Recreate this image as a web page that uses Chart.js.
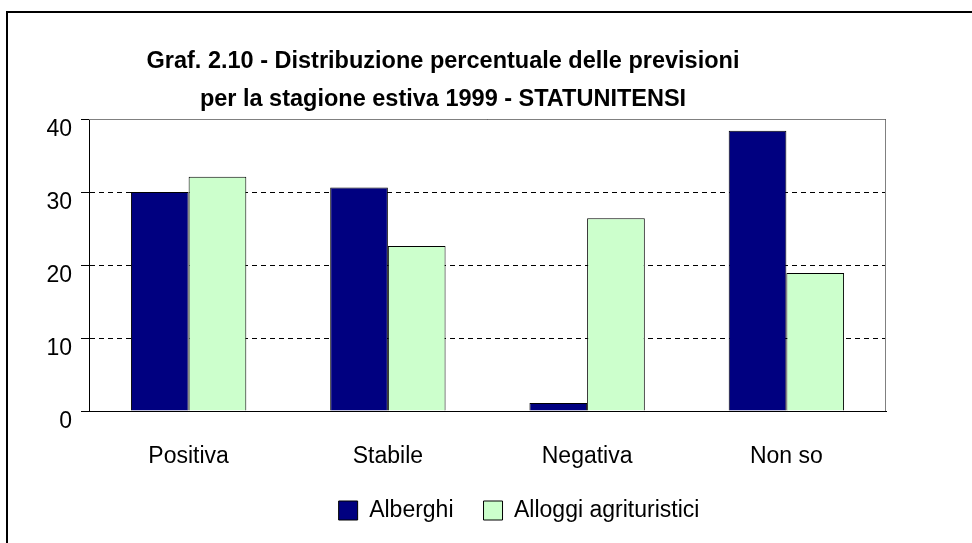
<!DOCTYPE html>
<html>
<head>
<meta charset="utf-8">
<script src="https://cdn.jsdelivr.net/npm/chart.js@4/dist/chart.umd.min.js"></script>
<style>
  body { margin: 0; background: #fff; }
  #wrap { position: relative; width: 972px; height: 543px; overflow: hidden; }
  #frame { position: absolute; left: 6px; top: 11px; width: 1000px; height: 600px;
           border-left: 2px solid #000; border-top: 2px solid #000; }
  #chart { position: absolute; left: 0; top: 0; }
</style>
</head>
<body>
<div id="wrap">
  <div id="frame"></div>
  <canvas id="chart" width="972" height="543"></canvas>
</div>
<script>
var categories = ['Positiva', 'Stabile', 'Negativa', 'Non so'];
var alberghi = [30.0, 30.6, 1.1, 38.4];
var agrituristici = [32.1, 22.6, 26.4, 18.9];
var yTicks = [0, 10, 20, 30, 40];

var FONT = '"Liberation Sans", Arial, sans-serif';

// bordo grigio dell'area del grafico (stile Excel)
var plotFrame = {
    id: 'plotFrame',
    beforeDatasetsDraw: function(chart) {
        var a = chart.chartArea, ctx = chart.ctx;
        ctx.save();
        ctx.strokeStyle = '#808080';
        ctx.lineWidth = 1;
        ctx.beginPath();
        ctx.moveTo(a.left, a.top + 0.5);
        ctx.lineTo(a.right - 0.5, a.top + 0.5);
        ctx.lineTo(a.right - 0.5, a.bottom);
        ctx.stroke();
        ctx.restore();
    }
};

// sposta la legenda a destra come nell'originale
var legendShift = {
    id: 'legendShift',
    afterLayout: function(chart) {
        chart.legend.left += 76;
        chart.legend.right += 76;
    }
};

function InitChart() {
    new Chart(document.getElementById('chart'), {
        type: 'bar',
        data: {
            labels: categories,
            datasets: [{
                label: 'Alberghi',
                data: alberghi,
                backgroundColor: '#000080',
                borderColor: '#000000',
                borderWidth: 1,
            }, {
                label: 'Alloggi agrituristici',
                data: agrituristici,
                backgroundColor: '#CCFFCC',
                borderColor: '#000000',
                borderWidth: 1,
            }]
        },
        options: {
            responsive: false,
            animation: false,
            devicePixelRatio: 1,
            layout: { padding: { left: 0, right: 86, top: 0, bottom: 11 } },
            datasets: { bar: { barPercentage: 1, categoryPercentage: 0.579 } },
            scales: {
                x: {
                    grid: { display: false, drawTicks: false },
                    border: { display: true, color: '#000', width: 1 },
                    ticks: { color: '#000', padding: 32, maxRotation: 0,
                             font: { family: FONT, size: 23 } },
                    afterFit: function(s) { s.height = 58; }
                },
                y: {
                    min: 0, max: 40,
                    afterBuildTicks: function(s) { s.ticks = yTicks.map(function(v) { return { value: v }; }); },
                    grid: { color: '#000', lineWidth: 1, tickLength: 8,
                            tickColor: '#000', tickBorderDash: [] },
                    border: { display: true, color: '#000', width: 1, dash: [5, 4] },
                    ticks: { color: '#000', padding: 9, labelOffset: 11,
                             font: { family: FONT, size: 23 } },
                    afterFit: function(s) { s.width = 89; }
                }
            },
            plugins: {
                title: {
                    display: true,
                    text: ['Graf. 2.10 - Distribuzione percentuale delle previsioni',
                           'per la stagione estiva 1999 - STATUNITENSI'],
                    color: '#000',
                    font: { family: FONT, size: 23.5, weight: 'bold', lineHeight: 38 / 23.5 },
                    padding: { top: 43, bottom: 0 }
                },
                legend: {
                    position: 'bottom',
                    labels: {
                        color: '#000',
                        boxWidth: 19,
                        boxHeight: 19,
                        padding: 30,
                        font: { family: FONT, size: 23 }
                    }
                },
                tooltip: { enabled: false }
            }
        },
        plugins: [plotFrame, legendShift]
    });
}
InitChart();
</script>
</body>
</html>
